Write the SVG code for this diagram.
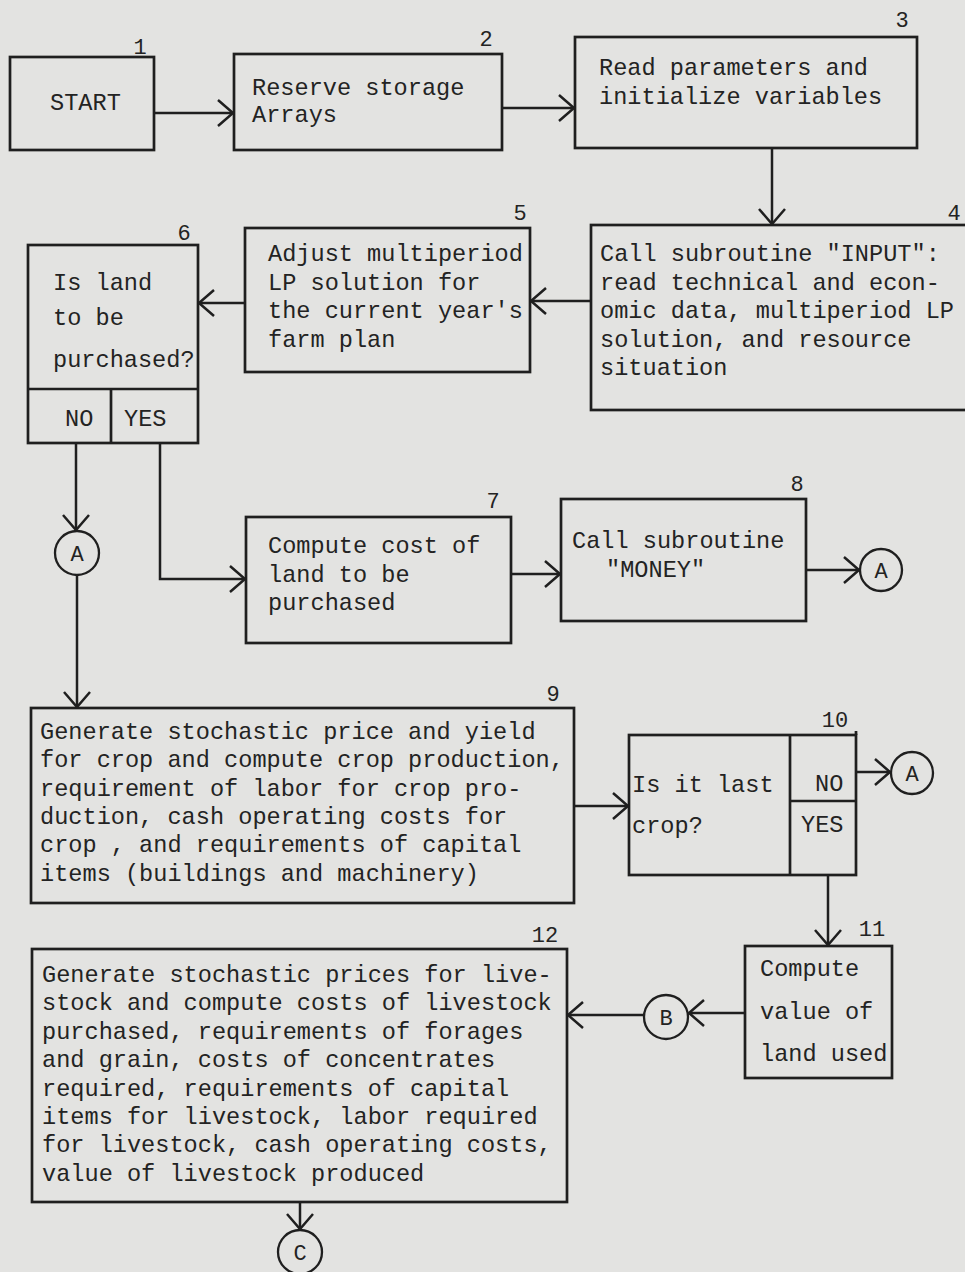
<svg xmlns="http://www.w3.org/2000/svg" width="965" height="1272" viewBox="0 0 965 1272">
<defs>
<marker id="arr" viewBox="-17 -15 20 30" markerWidth="20" markerHeight="30" refX="0" refY="0" orient="auto" markerUnits="userSpaceOnUse">
<path d="M-15,-13 L0,0 L-15,13" fill="none" stroke="#1f1f1f" stroke-width="2.5"/>
</marker>
<style>
.bx{fill:none;stroke:#1f1f1f;stroke-width:2.7}
.ln{fill:none;stroke:#1f1f1f;stroke-width:2.5}
.t{font-family:"Liberation Mono","DejaVu Sans Mono",monospace;font-size:23.6px;fill:#232323}
.n{font-family:"Liberation Mono","DejaVu Sans Mono",monospace;font-size:22px;fill:#232323;text-anchor:middle}
.c{fill:none;stroke:#1f1f1f;stroke-width:2.3}
.ct{font-family:"Liberation Mono","DejaVu Sans Mono",monospace;font-size:22px;fill:#232323;text-anchor:middle}
</style>
</defs>
<rect width="965" height="1272" fill="#e3e3e1"/>

<g id="n1">
<rect class="bx" x="10" y="57" width="144" height="93"/>
<text class="n" x="140" y="54">1</text>
<text class="t" x="50" y="110">START</text>
</g>
<g id="n2">
<rect class="bx" x="234" y="54" width="268" height="96"/>
<text class="n" x="486" y="46">2</text>
<text class="t" x="252" y="95">Reserve storage</text>
<text class="t" x="252" y="122">Arrays</text>
</g>
<g id="n3">
<rect class="bx" x="575" y="37" width="342" height="111"/>
<text class="n" x="902" y="27">3</text>
<text class="t" x="599" y="75">Read parameters and</text>
<text class="t" x="599" y="104">initialize variables</text>
</g>
<g id="n4">
<rect class="bx" x="591" y="225" width="390" height="185"/>
<text class="n" x="954" y="220">4</text>
<text class="t" x="600" y="261">Call subroutine "INPUT":</text>
<text class="t" x="600" y="290">read technical and econ-</text>
<text class="t" x="600" y="318">omic data, multiperiod LP</text>
<text class="t" x="600" y="347">solution, and resource</text>
<text class="t" x="600" y="375">situation</text>
</g>
<g id="n5">
<rect class="bx" x="245" y="228" width="285" height="144"/>
<text class="n" x="520" y="220">5</text>
<text class="t" x="268" y="261">Adjust multiperiod</text>
<text class="t" x="268" y="290">LP solution for</text>
<text class="t" x="268" y="318">the current year's</text>
<text class="t" x="268" y="347">farm plan</text>
</g>
<g id="n6">
<rect class="bx" x="28" y="245" width="170" height="198"/>
<line class="bx" x1="28" y1="389" x2="198" y2="389"/>
<line class="bx" x1="111" y1="389" x2="111" y2="443"/>
<text class="n" x="184" y="240">6</text>
<text class="t" x="53" y="290">Is land</text>
<text class="t" x="53" y="325">to be</text>
<text class="t" x="53" y="367">purchased?</text>
<text class="t" x="65" y="426">NO</text>
<text class="t" x="124" y="426">YES</text>
</g>
<g id="n7">
<rect class="bx" x="246" y="517" width="265" height="126"/>
<text class="n" x="493" y="508">7</text>
<text class="t" x="268" y="553">Compute cost of</text>
<text class="t" x="268" y="582">land to be</text>
<text class="t" x="268" y="610">purchased</text>
</g>
<g id="n8">
<rect class="bx" x="561" y="499" width="245" height="122"/>
<text class="n" x="797" y="491">8</text>
<text class="t" x="572" y="548">Call subroutine</text>
<text class="t" x="606" y="577">"MONEY"</text>
</g>
<g id="a1">
<circle class="c" cx="77" cy="553" r="22"/>
<text class="ct" x="77" y="561">A</text>
</g>
<g id="a2">
<circle class="c" cx="881" cy="570" r="21"/>
<text class="ct" x="881" y="578">A</text>
</g>
<g id="n9">
<rect class="bx" x="31" y="708" width="543" height="195"/>
<text class="n" x="553" y="701">9</text>
<text class="t" x="40" y="739">Generate stochastic price and yield</text>
<text class="t" x="40" y="767">for crop and compute crop production,</text>
<text class="t" x="40" y="796">requirement of labor for crop pro-</text>
<text class="t" x="40" y="824">duction, cash operating costs for</text>
<text class="t" x="40" y="852">crop , and requirements of capital</text>
<text class="t" x="40" y="881">items (buildings and machinery)</text>
</g>
<g id="n10">
<rect class="bx" x="629" y="735" width="227" height="140"/>
<line class="bx" x1="790" y1="735" x2="790" y2="875"/>
<line class="bx" x1="790" y1="801" x2="856" y2="801"/>
<line class="bx" x1="856" y1="735" x2="856" y2="731"/>
<text class="n" x="835" y="727">10</text>
<text class="t" x="632" y="792">Is it last</text>
<text class="t" x="632" y="833">crop?</text>
<text class="t" x="815" y="791">NO</text>
<text class="t" x="801" y="832">YES</text>
</g>
<g id="a3">
<circle class="c" cx="912" cy="773" r="21"/>
<text class="ct" x="912" y="781">A</text>
</g>
<g id="n11">
<rect class="bx" x="745" y="946" width="147" height="132"/>
<text class="n" x="872" y="936">11</text>
<text class="t" x="760" y="976">Compute</text>
<text class="t" x="760" y="1019">value of</text>
<text class="t" x="760" y="1061">land used</text>
</g>
<g id="b1">
<circle class="c" cx="666" cy="1017" r="22"/>
<text class="ct" x="666" y="1025">B</text>
</g>
<g id="n12">
<rect class="bx" x="32" y="949" width="535" height="253"/>
<text class="n" x="545" y="942">12</text>
<text class="t" x="42" y="982">Generate stochastic prices for live-</text>
<text class="t" x="42" y="1010">stock and compute costs of livestock</text>
<text class="t" x="42" y="1039">purchased, requirements of forages</text>
<text class="t" x="42" y="1067">and grain, costs of concentrates</text>
<text class="t" x="42" y="1096">required, requirements of capital</text>
<text class="t" x="42" y="1124">items for livestock, labor required</text>
<text class="t" x="42" y="1152">for livestock, cash operating costs,</text>
<text class="t" x="42" y="1181">value of livestock produced</text>
</g>
<g id="c1">
<circle class="c" cx="300" cy="1252" r="22"/>
<text class="ct" x="300" y="1260">C</text>
</g>

<g id="connectors">
<path class="ln" d="M154,113 H233" marker-end="url(#arr)"/>
<path class="ln" d="M502,108 H574" marker-end="url(#arr)"/>
<path class="ln" d="M772,148 V224" marker-end="url(#arr)"/>
<path class="ln" d="M591,301 H531" marker-end="url(#arr)"/>
<path class="ln" d="M245,303 H199" marker-end="url(#arr)"/>
<path class="ln" d="M76,443 V530" marker-end="url(#arr)"/>
<path class="ln" d="M77,575 V707" marker-end="url(#arr)"/>
<path class="ln" d="M160,443 V579 H245" marker-end="url(#arr)"/>
<path class="ln" d="M511,574 H560" marker-end="url(#arr)"/>
<path class="ln" d="M806,570 H859" marker-end="url(#arr)"/>
<path class="ln" d="M574,806 H628" marker-end="url(#arr)"/>
<path class="ln" d="M856,772 H890" marker-end="url(#arr)"/>
<path class="ln" d="M828,875 V945" marker-end="url(#arr)"/>
<path class="ln" d="M745,1013 H689" marker-end="url(#arr)"/>
<path class="ln" d="M644,1015 H568" marker-end="url(#arr)"/>
<path class="ln" d="M300,1202 V1229" marker-end="url(#arr)"/>
</g>
</svg>
